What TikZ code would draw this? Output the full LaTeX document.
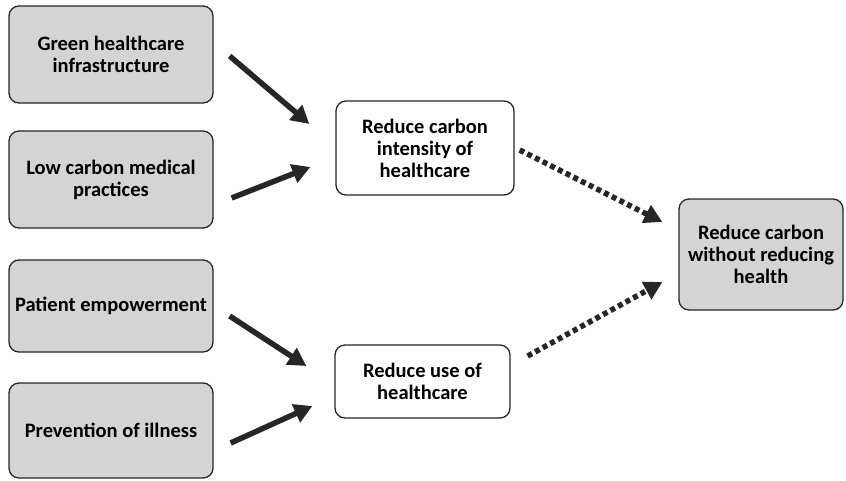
\documentclass[tikz,border=0pt]{standalone}
\usepackage{fontspec}
\setmainfont{Carlito}
\usetikzlibrary{arrows.meta}
\definecolor{boxgray}{HTML}{D4D4D4}
\definecolor{arrowgray}{HTML}{262626}
\begin{document}
\begin{tikzpicture}[x=1pt,y=-1pt,
  base/.style={draw=black!85, line width=1.3pt, rounded corners=10pt, align=center,
    font=\fontsize{20.5}{22}\selectfont\bfseries, inner sep=0pt},
  driver/.style={base, fill=boxgray, minimum width=204pt, minimum height=97pt},
  goal/.style={base, fill=white},
  solidarrow/.style={draw=arrowgray, line width=5.5pt,
    -{Triangle[length=18pt,width=19pt]}},
  dotarrow/.style={draw=arrowgray, line width=5.5pt, dash pattern=on 5pt off 3.6pt,
    -{Triangle[length=18pt,width=19pt]}}
]
\useasboundingbox (0,0) rectangle (846,480);

% Left column: the four drivers
\node[driver] (green) at (111,54.5) {Green healthcare\\infrastructure};
\node[driver] (lowc)  at (111,179.5) {Low carbon medical\\practices};
\node[driver, minimum height=92pt] (patient) at (111,306) {Patient empowerment};
\node[driver, minimum height=95pt] (prevent) at (111,430.5) {Prevention of illness};

% Middle column: intermediate aims
\node[goal, minimum width=178pt, minimum height=94pt] (intensity) at (425,148) {Reduce carbon\\intensity of\\healthcare};
\node[goal, minimum width=175pt, minimum height=73pt] (use) at (422.5,381.5) {Reduce use of\\healthcare};

% Right: overall goal
\node[driver, minimum width=164pt, minimum height=111pt] (overall) at (761,254.5) {Reduce carbon\\without reducing\\health};

% Arrow end points, placed around the boxes
\coordinate (g1) at ([shift={(16,1.5)}]green.east);
\coordinate (g2) at ([shift={(-26,-24)}]intensity.west);
\coordinate (l1) at ([shift={(18,18.5)}]lowc.east);
\coordinate (l2) at ([shift={(-25,19)}]intensity.west);
\coordinate (p1) at ([shift={(16,10)}]patient.east);
\coordinate (p2) at ([shift={(-28,-15.5)}]use.west);
\coordinate (v1) at ([shift={(17,12.5)}]prevent.east);
\coordinate (v2) at ([shift={(-22,24.5)}]use.west);
\coordinate (i1) at ([shift={(5,2)}]intensity.east);
\coordinate (o1) at ([shift={(-16,-32.5)}]overall.west);
\coordinate (u1) at ([shift={(17,-25.5)}]use.east);
\coordinate (o2) at ([shift={(-16,27.5)}]overall.west);

% Solid arrows into the intermediate aims
\draw[solidarrow] (g1) -- (g2);
\draw[solidarrow] (l1) -- (l2);
\draw[solidarrow] (p1) -- (p2);
\draw[solidarrow] (v1) -- (v2);

% Dotted arrows into the overall goal
\draw[dotarrow] (i1) -- (o1);
\draw[dotarrow] (u1) -- (o2);
\end{tikzpicture}
\end{document}
